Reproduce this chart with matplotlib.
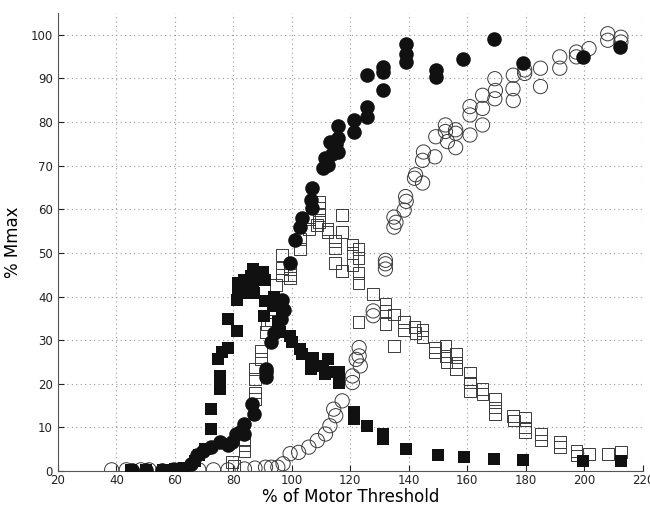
import numpy as np
import matplotlib.pyplot as plt

# filled circles
fc_x = [45.2, 50.1, 55.7, 59.7, 61.4, 65.4, 67.5, 69.6, 72.5, 75.3, 78.0, 79.5, 81.0, 82.4, 83.5, 83.8,
        86.4, 87.0, 91.0, 91.0, 91.0, 93.0, 93.8, 96.6, 97.3, 96.3, 99.4, 101.1, 102.9, 103.4,
        106.8, 106.5, 106.8, 110.8, 111.2, 112.2, 112.9, 113.6, 115.0, 115.7, 115.7, 115.7,
        121.4, 121.4, 125.7, 125.7, 125.7, 131.3, 131.3, 131.3, 139.1, 139.1, 139.1,
        149.4, 149.4, 158.6, 169.2, 179.1, 199.4, 212.2]
fc_y = [0.3, 0.3, 0.3, 0.3, 0.5, 1.7, 3.6, 4.7, 5.5, 6.6, 5.9, 6.6, 8.5, 8.9, 10.8, 8.5,
        15.4, 13.1, 22.6, 21.5, 23.3, 29.5, 31.7, 39.3, 37.0, 34.8, 47.7, 53.0, 56.0, 58.0,
        64.8, 62.0, 60.2, 69.4, 71.7, 70.2, 75.3, 72.6, 74.9, 79.1, 73.0, 76.4,
        77.8, 80.5, 83.5, 81.2, 90.7, 87.2, 92.6, 91.5, 97.9, 95.6, 93.7,
        91.8, 90.3, 94.5, 99.1, 93.4, 94.9, 97.2]

# open circles
oc_x = [38.4, 43.4, 48.4, 51.2, 59.7, 68.2, 73.2, 78.2, 83.8, 87.4, 91.0, 93.0, 95.2, 97.0,
        99.4, 102.3, 105.8, 108.7, 111.5, 113.0, 114.3, 115.0, 117.2, 120.7, 120.7, 122.0,
        123.0, 123.0, 123.4, 127.8, 127.8, 132.0, 132.0, 132.0, 134.9, 134.9, 135.6, 138.4,
        138.9, 139.1, 141.9, 142.3, 144.7, 145.0, 144.7, 148.9, 149.2, 152.5, 152.5, 153.2,
        156.0, 156.0, 156.0, 160.9, 160.9, 160.9, 165.2, 165.2, 165.2, 169.4, 169.6, 169.4,
        175.6, 175.7, 175.7, 179.6, 179.6, 185.0, 185.0, 191.6, 191.6, 197.3, 197.3, 201.6,
        208.0, 208.0, 212.5, 212.5]
oc_y = [0.3, 0.3, 0.3, 0.3, 0.3, 0.3, 0.3, 0.3, 0.5, 0.7, 0.9, 0.9, 0.9, 1.7,
        4.0, 4.3, 5.5, 7.0, 8.5, 10.4, 14.2, 12.7, 16.1, 20.3, 21.8, 25.6,
        28.3, 26.4, 24.1, 36.7, 35.6, 47.5, 46.3, 48.3, 58.2, 55.9, 57.0, 59.8,
        62.9, 61.8, 67.1, 67.9, 66.0, 73.1, 71.2, 72.0, 76.6, 77.8, 79.3, 75.5,
        78.2, 74.1, 77.4, 83.5, 81.6, 77.0, 86.1, 83.1, 79.3, 89.9, 87.2, 85.3,
        87.6, 90.7, 84.9, 91.9, 91.1, 92.3, 88.1, 94.9, 92.3, 96.0, 94.9, 96.8,
        100.2, 98.7, 99.4, 98.3]

# filled squares
fs_x = [45.0, 50.0, 56.0, 60.0, 63.0, 66.8, 68.2, 70.4, 72.5, 72.5, 74.6, 75.3, 75.3, 75.3, 76.0,
        78.2, 78.2, 81.3, 81.3, 81.7, 81.7, 83.8, 83.8, 85.2, 85.9, 86.6, 86.6, 86.9,
        90.2, 90.9, 90.6, 90.9, 93.5, 93.8, 95.2, 96.0, 96.6, 99.4, 100.1, 102.9, 103.6,
        106.5, 106.5, 107.2, 110.8, 111.5, 112.2, 113.6, 116.2, 116.2, 121.4, 121.4,
        125.7, 131.3, 131.3, 138.9, 149.8, 158.7, 169.2, 179.1, 199.4, 212.5]
fs_y = [0.3, 0.3, 0.3, 0.5, 0.8, 2.4, 3.6, 5.1, 14.2, 9.7, 25.6, 20.3, 21.8, 18.8, 27.2,
        28.3, 34.8, 32.1, 39.3, 40.8, 43.1, 42.3, 43.9, 40.8, 44.6, 43.1, 46.2, 40.8,
        45.7, 43.9, 35.6, 39.0, 37.8, 40.0, 34.2, 31.9, 36.7, 31.0, 29.5, 27.9, 26.8,
        25.3, 23.4, 26.0, 24.1, 22.2, 25.6, 22.7, 22.6, 20.3, 13.6, 12.0,
        10.4, 8.5, 7.4, 5.1, 3.6, 3.2, 2.7, 2.6, 2.4, 2.4]

# open squares
os_x = [79.6, 80.3, 83.8, 83.8, 83.8, 87.4, 87.4, 87.4, 87.4, 89.5, 89.5, 91.0, 91.6, 93.0,
        94.5, 96.6, 96.6, 96.6, 99.4, 99.4, 99.4, 102.9, 102.9, 105.8, 105.8, 109.4, 109.4,
        109.4, 109.4, 108.7, 112.2, 112.2, 114.8, 114.8, 114.8, 117.2, 117.2, 117.2, 120.7,
        120.7, 120.7, 122.8, 122.8, 122.8, 122.8, 122.8, 127.8, 132.0, 132.0, 132.0, 134.9,
        134.9, 138.4, 138.4, 141.9, 142.3, 144.7, 144.7, 148.9, 148.9, 152.5, 152.5, 152.9,
        156.0, 156.0, 156.0, 160.9, 160.9, 160.9, 165.2, 165.2, 169.4, 169.4, 169.4, 175.7,
        176.0, 179.6, 179.6, 179.6, 185.2, 185.2, 191.6, 191.6, 197.3, 197.3, 201.6, 208.0,
        212.5]
os_y = [2.1, 1.3, 4.7, 5.9, 7.0, 16.5, 18.0, 21.1, 23.4, 27.5, 25.6, 31.9, 33.7, 34.5,
        42.6, 49.5, 46.5, 45.0, 45.0, 44.3, 46.2, 50.9, 53.2, 57.8, 55.5, 61.7, 60.2,
        58.7, 57.1, 56.4, 55.5, 54.8, 52.8, 51.0, 47.6, 58.7, 54.8, 45.8, 51.9,
        50.0, 47.2, 50.9, 48.8, 45.3, 43.1, 34.2, 40.6, 38.3, 36.7, 33.7, 35.9,
        28.7, 34.2, 32.3, 33.0, 31.7, 32.3, 30.8, 28.3, 27.2, 28.7, 26.4, 24.9,
        26.8, 24.9, 23.4, 22.6, 20.3, 18.4, 18.8, 17.6, 16.5, 14.6, 13.1, 12.7,
        11.6, 12.3, 10.0, 8.9, 8.5, 7.0, 6.6, 5.5, 4.7, 3.6, 4.0, 4.0,
        4.3]

fig = plt.figure(figsize=(6.5, 5.11), dpi=100)
ax = fig.add_axes([0.089, 0.078, 0.9, 0.897])

edge = '#3a3a3a'
ax.scatter(os_x, os_y, s=72, marker='s', facecolors='none', edgecolors=edge, linewidths=0.7, zorder=3)
ax.scatter(oc_x, oc_y, s=105, marker='o', facecolors='none', edgecolors=edge, linewidths=0.7, zorder=3)
ax.scatter(fs_x, fs_y, s=78, marker='s', color='#111111', linewidths=0, zorder=4)
ax.scatter(fc_x, fc_y, s=110, marker='o', color='#111111', linewidths=0, zorder=5)

ax.set_xlim(20, 220)
ax.set_ylim(0, 105)
ax.set_xticks(np.arange(20, 221, 20))
ax.set_yticks(np.arange(0, 101, 10))
ax.grid(True, linestyle=(0, (1, 3)), color='#999999', linewidth=0.8)
ax.set_axisbelow(True)
for s in ['top', 'right']:
    ax.spines[s].set_visible(False)
for s in ['left', 'bottom']:
    ax.spines[s].set_color('#555555')
ax.tick_params(direction='in', length=4, labelsize=8.5, colors='#222222')
ax.tick_params(axis='x', pad=2)
ax.set_xlabel('% of Motor Threshold', fontsize=12, labelpad=1)
ax.set_ylabel('% Mmax', fontsize=12, labelpad=6)

fig.savefig('out.png', dpi=100)
